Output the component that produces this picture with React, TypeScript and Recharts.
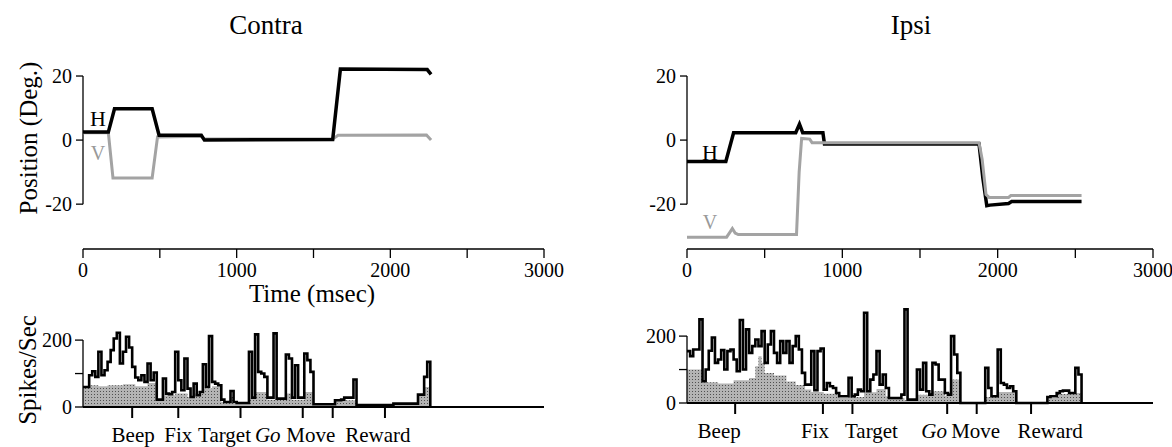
import React from "react";
import {
  LineChart,
  Line,
  ComposedChart,
  Area,
  XAxis,
  YAxis,
  ReferenceLine,
  ReferenceDot,
} from "recharts";

const FONT = "'Liberation Serif', 'Times New Roman', serif";

const TIME_TICKS = [0, 500, 1000, 1500, 2000, 2500, 3000];
const POS_TICKS = [-20, 0, 20];
const RATE_TICKS = [0, 100, 200];
const EVENT_NAMES = ["Beep", "Fix", "Target", "Go", "Move", "Reward"];
const BIN_MS = 20;

// eye position, [msec, deg]
const CONTRA_H = [[0, 2.5], [165, 2.5], [205, 9.8], [450, 9.8], [495, 1.5], [770, 1.5], [790, 0], [1625, 0.2], [1675, 22.2], [2240, 22], [2265, 20.5]];
const CONTRA_V = [[0, 2.3], [165, 2.3], [195, -11.8], [450, -11.8], [485, 1], [770, 1.2], [790, 0.3], [1625, 0.3], [1660, 1.5], [2235, 1.6], [2265, 0]];
const IPSI_H = [[0, -6.7], [250, -6.7], [300, 2.3], [700, 2.3], [724, 5], [745, 2.3], [875, 2.3], [885, -1.2], [1880, -1.2], [1905, -12], [1930, -20.5], [1950, -20.3], [2070, -19.8], [2090, -19.2], [2540, -19.2]];
const IPSI_V = [[0, -30.3], [255, -30.3], [280, -28.5], [292, -27.6], [310, -29], [330, -29.5], [705, -29.5], [722, -10], [738, 0.5], [790, 0.3], [805, -0.8], [1880, -0.8], [1900, -6], [1925, -17], [1945, -17.9], [2070, -17.9], [2085, -17.3], [2540, -17.3]];

// firing rate per 20 ms bin (spikes/sec), raw and smoothed
const CONTRA_RATE = [
  60, 60, 95, 107, 90, 165, 95, 110, 135, 170, 205, 222, 130, 165, 210, 178, 120, 88, 80, 95,
  75, 130, 80, 103, 22, 22, 85, 40, 38, 45, 165, 80, 50, 145, 55, 30, 70, 35, 45, 128,
  60, 212, 75, 70, 65, 22, 15, 15, 48, 15, 12, 12, 12, 12, 165, 28, 217, 105, 100, 90,
  28, 28, 220, 25, 25, 25, 157, 145, 28, 125, 28, 28, 160, 140, 105, 8, 8, 8, 8, 8,
  8, 8, 20, 20, 22, 28, 28, 28, 82, 6, 6, 6, 6, 6, 6, 6, 6, 6, 6, 6,
  6, 10, 10, 10, 10, 10, 10, 10, 10, 37, 37, 90, 135,
];
const CONTRA_BASE = [
  58, 58, 65, 65, 65, 62, 62, 62, 65, 65, 65, 65, 65, 68, 68, 68, 68, 62, 62, 62,
  62, 72, 72, 72, 20, 20, 35, 35, 35, 35, 40, 40, 40, 40, 30, 30, 40, 32, 40, 55,
  55, 55, 62, 62, 62, 15, 15, 15, 30, 10, 10, 10, 10, 10, 25, 25, 45, 45, 45, 45,
  22, 22, 22, 22, 22, 22, 40, 40, 22, 22, 22, 22, 45, 45, 45, 5, 5, 5, 5, 5,
  5, 5, 20, 20, 20, 20, 20, 20, 20, 4, 4, 4, 4, 4, 4, 4, 4, 4, 4, 4,
  4, 8, 8, 8, 8, 8, 8, 8, 8, 35, 35, 60, 60,
];
const IPSI_RATE = [
  155, 140, 160, 160, 250, 65, 100, 156, 196, 120, 130, 158, 100, 155, 160, 130, 95, 248, 100, 220,
  150, 170, 190, 170, 215, 120, 175, 215, 150, 120, 185, 150, 185, 120, 170, 200, 160, 90, 55, 55,
  155, 38, 155, 163, 40, 60, 50, 45, 30, 20, 20, 20, 75, 20, 25, 40, 35, 270, 35, 70,
  85, 155, 55, 85, 45, 15, 15, 15, 15, 25, 280, 10, 10, 10, 100, 40, 120, 35, 25, 120,
  115, 70, 70, 30, 25, 200, 145, 90, 0, 0, 0, 0, 0, 0, 0, 0, 105, 45, 20, 20,
  160, 60, 55, 45, 50, 35, 0, 0, 0, 0, 0, 0, 0, 0, 0, 0, 18, 20, 20, 30,
  35, 37, 37, 30, 30, 105, 85,
];
const IPSI_BASE = [
  100, 100, 100, 100, 100, 62, 62, 62, 62, 62, 58, 58, 58, 58, 58, 68, 68, 68, 68, 68,
  75, 75, 110, 140, 120, 90, 90, 90, 82, 82, 82, 82, 64, 64, 64, 54, 54, 54, 40, 40,
  33, 33, 33, 33, 28, 28, 28, 28, 28, 15, 15, 15, 18, 18, 18, 18, 18, 32, 32, 32,
  32, 42, 42, 42, 20, 12, 12, 12, 12, 15, 8, 8, 8, 8, 25, 25, 25, 25, 25, 35,
  35, 35, 35, 22, 22, 70, 70, 70, 0, 0, 0, 0, 0, 0, 0, 0, 18, 18, 18, 18,
  33, 33, 33, 33, 33, 33, 0, 0, 0, 0, 0, 0, 0, 0, 0, 0, 15, 15, 15, 27,
  27, 27, 27, 27, 27, 30, 30,
];

const CONTRA_EVENTS = [320, 620, 1025, 1430, 1625, 1965];
const IPSI_EVENTS = [310, 875, 1065, 1675, 1865, 2215];

// horizontal nudge of event names so they sit in one row
const CONTRA_NAME_SHIFT = [1, 0, -16, -35, -22, -7];
const IPSI_NAME_SHIFT = [-16, -8, 19, -13, -1, 19];

const tickStyle = { fill: "#000", fontSize: 20, fontFamily: FONT };

const toPoints = (arr: number[][]) => arr.map(([t, deg]) => ({ t, deg }));

function TracePanel({ h, v, left, plotLeft, plotRight, hAt, vAt, vFront }: any) {
  const hLine = (
    <Line
      key="h"
      data={toPoints(h)}
      dataKey="deg"
      type="linear"
      stroke="#000"
      strokeWidth={3.5}
      dot={false}
      isAnimationActive={false}
    />
  );
  const vLine = (
    <Line
      key="v"
      data={toPoints(v)}
      dataKey="deg"
      type="linear"
      stroke="#a3a3a3"
      strokeWidth={3}
      dot={false}
      isAnimationActive={false}
    />
  );
  return (
    <div style={{ position: "absolute", left, top: 0 }}>
      <LineChart
        width={586}
        height={300}
        margin={{ top: 60, left: plotLeft - 40, right: 586 - plotRight, bottom: 21 }}
      >
        <XAxis
          type="number"
          dataKey="t"
          domain={[0, 3000]}
          ticks={TIME_TICKS}
          interval={0}
          tickSize={9}
          tickMargin={5}
          tickFormatter={(x: number) => (x % 1000 === 0 ? String(x) : "")}
          tick={tickStyle}
          axisLine={{ stroke: "#000", strokeWidth: 1.3 }}
          tickLine={{ stroke: "#000", strokeWidth: 1.3 }}
          height={30}
        />
        <YAxis
          type="number"
          domain={[-34, 25]}
          ticks={POS_TICKS}
          interval={0}
          width={40}
          axisLine={false}
          tickSize={7}
          tickMargin={4}
          tick={tickStyle}
          tickLine={{ stroke: "#000", strokeWidth: 1.3 }}
        />
        <ReferenceLine segment={[{ x: 0, y: -20 }, { x: 0, y: 20 }]} stroke="#000" strokeWidth={1.3} />
        {vFront ? [hLine, vLine] : [vLine, hLine]}
        <ReferenceDot
          x={hAt[0]}
          y={hAt[1]}
          r={0}
          fill="none"
          stroke="none"
          label={{ value: "H", position: "center", fill: "#000", fontSize: 22, fontFamily: FONT }}
        />
        <ReferenceDot
          x={vAt[0]}
          y={vAt[1]}
          r={0}
          fill="none"
          stroke="none"
          label={{ value: "V", position: "center", fill: "#999", fontSize: 20, fontFamily: FONT }}
        />
      </LineChart>
    </div>
  );
}

function HistPanel({ id, rate, base, events, shifts, left, plotLeft, plotRight, zeroY }: any) {
  const data = rate.map((r: number, i: number) => ({ t: i * BIN_MS, rate: r, base: base[i] }));
  data.push({ t: rate.length * BIN_MS, rate: 0, base: 0 });
  const plotH = 97;
  const top = zeroY - 300 - plotH;

  const renderEvent = (props: any) => {
    const { x, y, index } = props;
    const name = EVENT_NAMES[index];
    return (
      <text
        x={x + shifts[index]}
        y={y}
        dy="0.71em"
        textAnchor="middle"
        fill="#000"
        fontSize={21}
        fontFamily={FONT}
        fontStyle={name === "Go" ? "italic" : "normal"}
      >
        {name}
      </text>
    );
  };

  return (
    <div style={{ position: "absolute", left, top: 300 }}>
      <ComposedChart
        width={586}
        height={147}
        data={data}
        margin={{ top, left: plotLeft - 40, right: 586 - plotRight, bottom: 147 - top - plotH - 30 }}
      >
        <defs>
          <pattern id={`stipple-${id}`} width="3" height="3" patternUnits="userSpaceOnUse">
            <rect width="3" height="3" fill="#b4b4b4" />
            <rect x="1" y="1" width="1" height="1" fill="#505050" />
          </pattern>
        </defs>
        <XAxis
          type="number"
          dataKey="t"
          domain={[0, 3000]}
          ticks={events}
          interval={0}
          height={30}
          tickSize={11}
          tickMargin={9}
          tick={renderEvent}
          axisLine={{ stroke: "#000", strokeWidth: 2 }}
          tickLine={{ stroke: "#000", strokeWidth: 2 }}
        />
        <YAxis
          type="number"
          domain={[0, 290]}
          ticks={RATE_TICKS}
          interval={0}
          width={40}
          axisLine={false}
          tickSize={8}
          tickMargin={3}
          tick={tickStyle}
          tickFormatter={(r: number) => (r === 100 ? "" : String(r))}
          tickLine={{ stroke: "#000", strokeWidth: 1.3 }}
        />
        <ReferenceLine segment={[{ x: 0, y: 0 }, { x: 0, y: 200 }]} stroke="#000" strokeWidth={1.3} />
        <Area
          type="stepAfter"
          dataKey="base"
          stroke="none"
          fill={`url(#stipple-${id})`}
          fillOpacity={1}
          isAnimationActive={false}
        />
        <Line
          type="stepAfter"
          dataKey="rate"
          stroke="#000"
          strokeWidth={2.6}
          dot={false}
          isAnimationActive={false}
        />
      </ComposedChart>
    </div>
  );
}

const textAt = (x: number, y: number, size: number, rotate = false): React.CSSProperties => ({
  position: "absolute",
  left: x,
  top: y,
  transform: `translate(-50%, -50%)${rotate ? " rotate(-90deg)" : ""}`,
  whiteSpace: "nowrap",
  fontFamily: FONT,
  fontSize: size,
  lineHeight: 1,
  color: "#000",
});

export default function App() {
  return (
    <div style={{ position: "absolute", left: 0, top: 0, width: 1172, height: 447, background: "#fff", overflow: "hidden" }}>
      <TracePanel h={CONTRA_H} v={CONTRA_V} left={0} plotLeft={83} plotRight={544} hAt={[98, 6.9]} vAt={[98, -4]} />
      <TracePanel h={IPSI_H} v={IPSI_V} left={586} plotLeft={101} plotRight={567} hAt={[148, -3.8]} vAt={[148, -25.4]} vFront />
      <HistPanel
        id="contra"
        rate={CONTRA_RATE}
        base={CONTRA_BASE}
        events={CONTRA_EVENTS}
        shifts={CONTRA_NAME_SHIFT}
        left={0}
        plotLeft={83}
        plotRight={544}
        zeroY={407}
      />
      <HistPanel
        id="ipsi"
        rate={IPSI_RATE}
        base={IPSI_BASE}
        events={IPSI_EVENTS}
        shifts={IPSI_NAME_SHIFT}
        left={586}
        plotLeft={101}
        plotRight={567}
        zeroY={403}
      />
      <div style={textAt(266, 25, 27)}>Contra</div>
      <div style={textAt(911, 25, 27)}>Ipsi</div>
      <div style={textAt(28, 138, 25, true)}>Position (Deg.)</div>
      <div style={textAt(312, 293, 25)}>Time (msec)</div>
      <div style={textAt(27, 370, 25, true)}>Spikes/Sec</div>
    </div>
  );
}
